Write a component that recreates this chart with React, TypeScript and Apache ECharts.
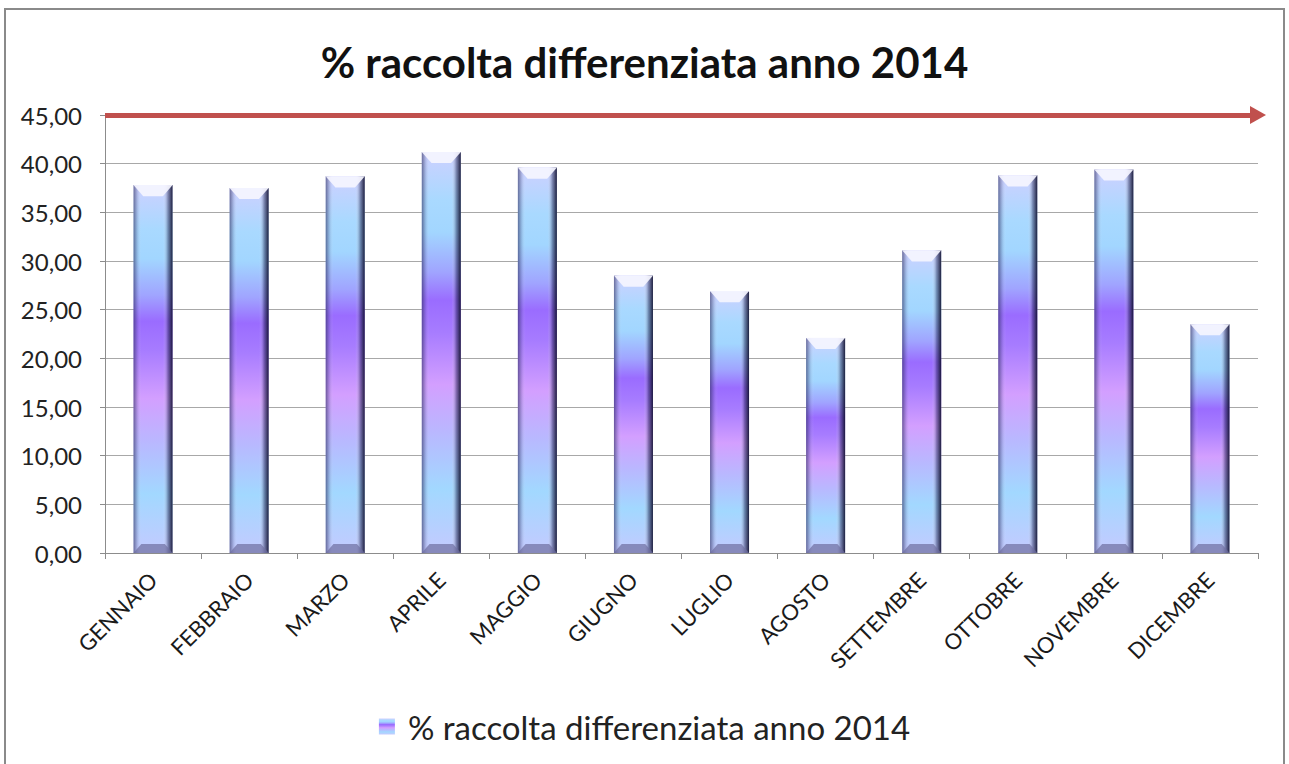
import React, { useEffect, useRef } from "react";
import * as echarts from "echarts";

const months = [
  "GENNAIO", "FEBBRAIO", "MARZO", "APRILE", "MAGGIO", "GIUGNO",
  "LUGLIO", "AGOSTO", "SETTEMBRE", "OTTOBRE", "NOVEMBRE", "DICEMBRE",
];
const values = [37.8, 37.5, 38.7, 41.2, 39.6, 28.5, 26.9, 22.1, 31.1, 38.8, 39.4, 23.5];
const seriesName = "% raccolta differenziata anno 2014";
const titleText = "% raccolta differenziata anno 2014";
const yMin = 0;
const yMax = 45;
const yStep = 5;
const arrowLevel = 45;

const FONT = "Lato, 'Open Sans', sans-serif";

export default function App() {
  const ref = useRef<HTMLDivElement>(null);
  useEffect(() => {
    if (!ref.current) return;
    const chart = echarts.init(ref.current, undefined, { renderer: "svg" });
    const barGradient = new echarts.graphic.LinearGradient(0, 0, 0, 1, [
      { offset: 0, color: "#cdd0ff" },
      { offset: 0.12, color: "#a9d9ff" },
      { offset: 0.2, color: "#a2d6ff" },
      { offset: 0.3, color: "#a0a4ff" },
      { offset: 0.37, color: "#9a6cff" },
      { offset: 0.45, color: "#a77cff" },
      { offset: 0.58, color: "#d39fff" },
      { offset: 0.7, color: "#b9b8ff" },
      { offset: 0.84, color: "#a2d8ff" },
      { offset: 1, color: "#c4caff" },
    ]);
    const edgeGradient = new echarts.graphic.LinearGradient(0, 0, 1, 0, [
      { offset: 0, color: "rgba(40,40,90,0.6)" },
      { offset: 0.1, color: "rgba(60,60,110,0.18)" },
      { offset: 0.2, color: "rgba(255,255,255,0)" },
      { offset: 0.76, color: "rgba(255,255,255,0)" },
      { offset: 0.88, color: "rgba(30,30,70,0.4)" },
      { offset: 1, color: "rgba(10,10,40,0.9)" },
    ]);
    chart.setOption({
      animation: false,
      backgroundColor: "#ffffff",
      title: {
        text: titleText,
        left: "center",
        top: 36,
        textStyle: { fontFamily: FONT, fontWeight: "bold", fontSize: 42, color: "#111" },
      },
      legend: {
        data: [seriesName],
        bottom: 16,
        left: "center",
        icon: "rect",
        itemWidth: 16,
        itemHeight: 16,
        textStyle: { fontFamily: FONT, fontSize: 33, color: "#222", padding: [0, 0, 0, 8] },
      },
      grid: { left: 105, right: 31, top: 115, bottom: 211, containLabel: false },
      xAxis: {
        type: "category",
        data: months,
        axisLine: { lineStyle: { color: "#8c8c8c", width: 1 } },
        axisTick: { show: true, length: 6, lineStyle: { color: "#8c8c8c" } },
        axisLabel: {
          rotate: 45,
          interval: 0,
          margin: 23,
          fontFamily: FONT,
          fontSize: 22,
          color: "#1a1a1a",
        },
      },
      yAxis: {
        type: "value",
        min: yMin,
        max: yMax,
        interval: yStep,
        axisLine: { show: true, lineStyle: { color: "#8c8c8c", width: 1 } },
        axisTick: { show: true, length: 5, lineStyle: { color: "#8c8c8c" } },
        splitLine: { lineStyle: { color: "#a8a8a8", width: 1.2 } },
        axisLabel: {
          margin: 23,
          fontFamily: FONT,
          fontSize: 24,
          color: "#222",
          formatter: (v: number) => v.toFixed(2).replace(".", ","),
        },
      },
      series: [
        {
          name: seriesName,
          type: "bar",
          data: values,
          barWidth: 39,
          itemStyle: { color: barGradient },
          markLine: {
            silent: true,
            symbol: ["none", "triangle"],
            symbolSize: [18, 16],
            label: { show: false },
            lineStyle: { color: "#c0504d", width: 5, type: "solid" },
            data: [{ yAxis: arrowLevel }],
          },
          z: 2,
        },
        {
          type: "bar",
          data: values,
          barWidth: 39,
          barGap: "-100%",
          silent: true,
          itemStyle: { color: edgeGradient },
          z: 3,
        },
        {
          type: "pictorialBar",
          data: values,
          symbol: "path://M0,0 L20,0 L15,6 L5,6 Z",
          symbolSize: [39, 11],
          symbolPosition: "end",
          silent: true,
          itemStyle: { color: "rgba(245,245,255,0.92)" },
          z: 4,
        },
        {
          type: "pictorialBar",
          data: values,
          symbol: "path://M4,0 L16,0 L20,5 L0,5 Z",
          symbolSize: [39, 9],
          symbolPosition: "start",
          silent: true,
          itemStyle: { color: "rgba(110,110,160,0.7)" },
          z: 4,
        },
      ],
      graphic: [
        {
          type: "rect",
          shape: { x: 5, y: 9, width: 1279, height: 770 },
          style: { fill: "none", stroke: "#8a8a8a", lineWidth: 2 },
          silent: true,
          z: 10,
        },
      ],
    });
    return () => chart.dispose();
  }, []);
  return (
    <div
      ref={ref}
      style={{ position: "fixed", left: 0, top: 0, width: 1289, height: 764, background: "#fff" }}
    />
  );
}
